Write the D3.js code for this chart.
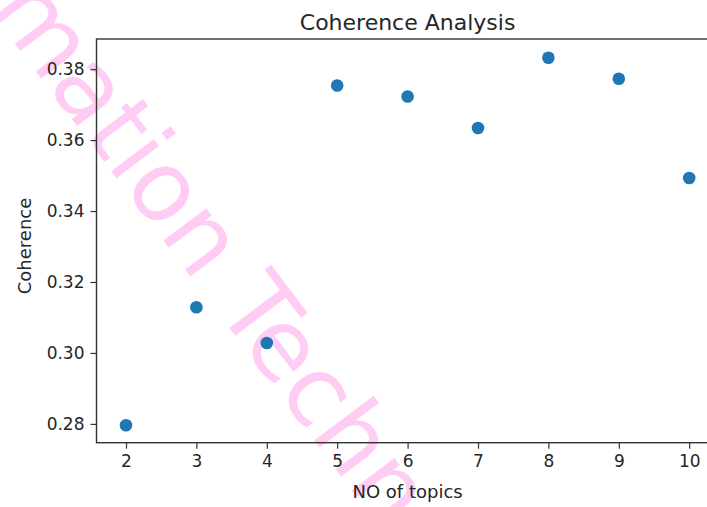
<!DOCTYPE html>
<html>
<head>
<meta charset="utf-8">
<script src="https://cdn.jsdelivr.net/npm/d3@7"></script>
<style>
  html, body { margin: 0; padding: 0; background: #fff; overflow: hidden; }
  svg { display: block; }
  text { font-family: "DejaVu Sans", sans-serif; }
</style>
</head>
<body>
<script>
// ---- data ----
const topics = [2, 3, 4, 5, 6, 7, 8, 9, 10];
const coherence = [0.2796, 0.3129, 0.3028, 0.3754, 0.3723, 0.3634, 0.3832, 0.3773, 0.3493];
const xTicks = [2, 3, 4, 5, 6, 7, 8, 9, 10];
const yTicks = [0.28, 0.30, 0.32, 0.34, 0.36, 0.38];
const title = "Coherence Analysis";
const xLabel = "NO of topics";
const yLabel = "Coherence";
const watermark = "Information Technology";

const W = 707, H = 507;
const svg = d3.select("body").append("svg").attr("width", W).attr("height", H);

const x = d3.scaleLinear().domain([1.581, 10.419]).range([96.5, 718.7]);
const y = d3.scaleLinear().domain([0.2747, 0.3885]).range([442.7, 39]);

// watermark (behind the chart marks)
svg.append("text").attr("transform", "translate(-146,-170) rotate(53)")
  .style("font-size", "98px").style("font-family", "'DejaVu Sans', sans-serif")
  .attr("fill", "#ff5ada").attr("fill-opacity", 0.3).text(watermark);

// axes
const tickFont = 17;
const xAxis = svg.append("g").attr("transform", `translate(0,${y.range()[0]})`)
  .call(d3.axisBottom(x).tickValues(xTicks).tickFormat(d3.format("d")).tickSizeOuter(0).tickSize(6).tickPadding(6));
const yAxis = svg.append("g").attr("transform", `translate(${x.range()[0]},0)`)
  .call(d3.axisLeft(y).tickValues(yTicks).tickFormat(d3.format(".2f")).tickSizeOuter(0).tickSize(6).tickPadding(6));
[xAxis, yAxis].forEach(g => {
  g.selectAll(".domain").remove();
  g.selectAll(".tick line").attr("stroke", "#333").attr("stroke-width", 1.2);
  g.selectAll(".tick text").attr("fill", "#262626").style("font-size", tickFont + "px")
    .style("font-family", "'DejaVu Sans', sans-serif");
});

// spines
const [x0, x1] = x.range(), [y0, y1] = [y.range()[0], y.range()[1]];
svg.append("rect").attr("x", x0).attr("y", y1).attr("width", x1 - x0).attr("height", y0 - y1)
  .attr("fill", "none").attr("stroke", "#333").attr("stroke-width", 1.4);

// points
svg.append("g").selectAll("circle").data(topics).join("circle")
  .attr("cx", (d) => x(d)).attr("cy", (d, i) => y(coherence[i])).attr("r", 6.3)
  .attr("fill", "#1f77b4");

// title and labels
svg.append("text").attr("x", (x0 + x1) / 2).attr("y", 30).attr("text-anchor", "middle")
  .style("font-size", "22px").attr("fill", "#262626").text(title);
svg.append("text").attr("x", (x0 + x1) / 2).attr("y", 498).attr("text-anchor", "middle")
  .style("font-size", "18px").attr("fill", "#262626").text(xLabel);
svg.append("text").attr("transform", "translate(31,246) rotate(-90)").attr("text-anchor", "middle")
  .style("font-size", "18px").attr("fill", "#262626").text(yLabel);
</script>
</body>
</html>
